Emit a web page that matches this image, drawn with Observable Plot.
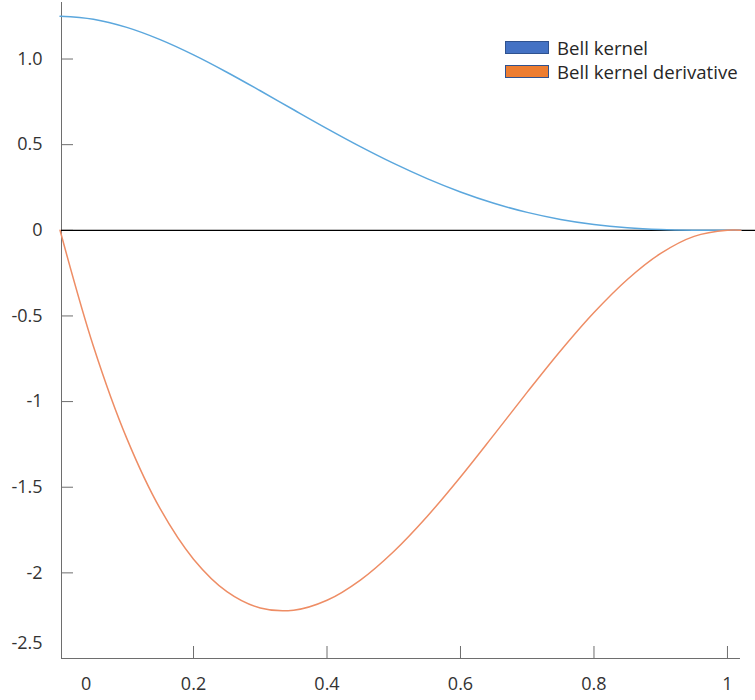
<!DOCTYPE html>
<html>
<head>
<meta charset="utf-8">
<script src="https://cdn.jsdelivr.net/npm/d3@7"></script>
<script src="https://cdn.jsdelivr.net/npm/@observablehq/plot@0.6"></script>
<style>
  body { margin: 0; background: #fff; }
  #wrap { position: relative; width: 755px; height: 700px; font-family: "Open Sans", sans-serif; }
  .leg { position: absolute; left: 505px; display: flex; align-items: center; font-size: 18.6px; color: #262626; white-space: nowrap; }
  .sw { width: 42px; height: 11px; border: 1px solid #2F528F; margin-right: 8px; }
</style>
</head>
<body>
<div id="wrap"></div>
<script>
// x positions (kernel support radius fraction)
const xs = [0, 0.05, 0.10, 0.15, 0.20, 0.25, 0.30, 0.35, 0.40, 0.45, 0.50,
            0.55, 0.60, 0.65, 0.70, 0.75, 0.80, 0.85, 0.90, 0.95, 1.00, 1.02];
// Bell kernel values
const bellKernel = [1.25, 1.2325, 1.1846, 1.1131, 1.024, 0.9229, 0.8146, 0.7037, 0.594, 0.4887, 0.3906,
                    0.3019, 0.224, 0.1581, 0.1046, 0.0635, 0.034, 0.015, 0.0046, 0.0006, 0, 0];
// Bell kernel derivative values
const bellDerivative = [0, -0.6769, -1.215, -1.6256, -1.92, -2.1094, -2.205, -2.2181, -2.16, -2.0419, -1.875,
                        -1.6706, -1.44, -1.1944, -0.945, -0.7031, -0.48, -0.2869, -0.135, -0.0356, 0, 0];
const seriesNames = ["Bell kernel", "Bell kernel derivative"];
const lineColors = ["#5BA7DD", "#EE8D65"];
const legendColors = ["#4472C4", "#ED7D31"];

const yTickValues = [1.0, 0.5, 0, -0.5, -1, -1.5, -2, -2.5];
const yTickLabels = ["1.0", "0.5", "0", "-0.5", "-1", "-1.5", "-2", "-2.5"];
const xTickValues = [0, 0.2, 0.4, 0.6, 0.8, 1];
const xTickLabels = ["0", "0.2", "0.4", "0.6", "0.8", "1"];

const xDomain = [0.0022, 1.042];
const xAxisEnd = 1.0195;
const yDomain = [-2.5, 1.33];

const kernelData = xs.map((x, i) => ({x, y: bellKernel[i]}));
const derivData = xs.map((x, i) => ({x, y: bellDerivative[i]}));

const yTicks = yTickValues.map((v, i) => ({v, label: yTickLabels[i]}));
const xTicks = xTickValues.map((v, i) => ({v, label: xTickLabels[i]}));

const axisColor = "#6e6e6e";
const textColor = "#333333";

const chart = Plot.plot({
  width: 755,
  height: 700,
  marginLeft: 61,
  marginRight: 0,
  marginTop: 2,
  marginBottom: 42,
  x: {domain: xDomain, axis: null},
  y: {domain: yDomain, axis: null},
  style: {fontFamily: "Open Sans", fontSize: "18px", background: "white"},
  marks: [
    // y-axis ticks (inward)
    Plot.axisY({ticks: yTickValues.filter(v => v !== -2.5), tickSize: -12, tickFormat: () => "", stroke: axisColor}),
    // x-axis ticks (inward)
    Plot.axisX({anchor: "bottom", ticks: xTickValues.filter(v => v !== 0), tickSize: -12, tickFormat: () => "", stroke: axisColor}),
    // axis lines
    Plot.ruleX([xDomain[0]], {stroke: axisColor}),
    Plot.ruleY([yDomain[0]], {x1: xDomain[0], x2: xAxisEnd, stroke: axisColor}),
    // zero line
    Plot.ruleY([0], {x1: xDomain[0], x2: xDomain[1], stroke: "black", strokeWidth: 1.2}),
    // y tick labels
    Plot.text(yTicks.filter(d => d.v !== -2.5), {y: "v", text: "label", frameAnchor: "left", textAnchor: "end", dx: -19, lineAnchor: "middle", fill: textColor}),
    Plot.text(yTicks.filter(d => d.v === -2.5), {y: "v", text: "label", frameAnchor: "left", textAnchor: "end", dx: -19, dy: -15, lineAnchor: "middle", fill: textColor}),
    // x tick labels
    Plot.text(xTicks.filter(d => d.v !== 0), {x: "v", text: "label", frameAnchor: "bottom", dy: 26, lineAnchor: "middle", fill: textColor}),
    Plot.text(xTicks.filter(d => d.v === 0), {x: "v", text: "label", frameAnchor: "bottom", dx: 26, dy: 26, lineAnchor: "middle", fill: textColor}),
    // curves
    Plot.line(kernelData, {x: "x", y: "y", stroke: lineColors[0], strokeWidth: 1.5, curve: "catmull-rom"}),
    Plot.line(derivData, {x: "x", y: "y", stroke: lineColors[1], strokeWidth: 1.5, curve: "catmull-rom"})
  ]
});

const wrap = document.getElementById("wrap");
wrap.appendChild(chart);

const legendTops = [41, 65];
seriesNames.forEach((name, i) => {
  const row = document.createElement("div");
  row.className = "leg";
  row.style.top = (legendTops[i] - 6) + "px";
  const sw = document.createElement("div");
  sw.className = "sw";
  sw.style.background = legendColors[i];
  const t = document.createElement("span");
  t.textContent = name;
  row.appendChild(sw);
  row.appendChild(t);
  wrap.appendChild(row);
});
</script>
</body>
</html>
